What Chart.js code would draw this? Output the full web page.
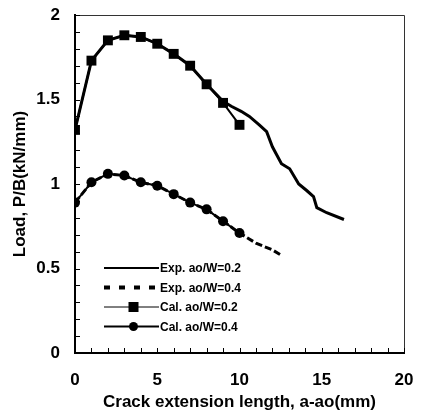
<!DOCTYPE html>
<html>
<head>
<meta charset="utf-8">
<script src="https://cdn.jsdelivr.net/npm/chart.js@4/dist/chart.umd.min.js"></script>
<style>
  body { margin: 0; background: #fff; }
</style>
</head>
<body>
<canvas id="grafico" width="422" height="415"></canvas>
<script>
// valores
const expX02 = [0, 1, 2, 3, 4, 5, 6, 7, 8, 9, 9.5, 10.1, 10.6, 11.2, 11.65, 12.0, 12.55, 13.05, 13.6, 14.1, 14.5, 14.7, 15.3, 16.35];
const expY02 = [1.32, 1.73, 1.85, 1.88, 1.87, 1.83, 1.77, 1.70, 1.59, 1.49, 1.46, 1.43, 1.40, 1.35, 1.31, 1.22, 1.12, 1.09, 1.00, 0.96, 0.925, 0.86, 0.83, 0.79];

const expX04 = [0, 1, 2, 3, 4, 5, 6, 7, 8, 9, 10, 11, 12, 12.6];
const expY04 = [0.89, 1.01, 1.06, 1.05, 1.01, 0.99, 0.94, 0.89, 0.85, 0.78, 0.71, 0.65, 0.61, 0.575];

const calX02 = [0, 1, 2, 3, 4, 5, 6, 7, 8, 9, 10];
const calY02 = [1.32, 1.73, 1.85, 1.88, 1.87, 1.83, 1.77, 1.70, 1.59, 1.48, 1.35];

const calX04 = [0, 1, 2, 3, 4, 5, 6, 7, 8, 9, 10];
const calY04 = [0.89, 1.01, 1.06, 1.05, 1.01, 0.99, 0.94, 0.89, 0.85, 0.78, 0.71];

const labelsSerie = ['Exp. ao/W=0.2', 'Exp. ao/W=0.4', 'Cal. ao/W=0.2', 'Cal. ao/W=0.4'];
const xTickLabels = [0, 5, 10, 15, 20];
const yTickLabels = [0, 0.5, 1, 1.5, 2];

const fonte = "'Liberation Sans', Arial, sans-serif";

function pontos(xs, ys) {
    return xs.map((x, i) => ({ x: x, y: ys[i] }));
}

// moldura, marcas internas e legenda dentro do grafico
const extras = {
    id: 'extras',
    afterDraw(chart) {
        const ctx = chart.ctx;
        const a = chart.chartArea;
        const sx = chart.scales.x;
        const sy = chart.scales.y;
        ctx.save();

        ctx.strokeStyle = '#333';
        ctx.lineWidth = 1;
        ctx.beginPath();
        ctx.moveTo(a.left, a.top + 0.5);
        ctx.lineTo(a.right + 0.5, a.top + 0.5);
        ctx.lineTo(a.right + 0.5, a.bottom);
        ctx.stroke();

        ctx.strokeStyle = '#000';
        ctx.lineWidth = 1;
        sy.ticks.forEach(t => {
            const py = Math.round(sy.getPixelForValue(t.value)) + 0.5;
            ctx.beginPath();
            ctx.moveTo(a.left, py);
            ctx.lineTo(a.left + 5, py);
            ctx.stroke();
        });
        sx.ticks.forEach(t => {
            const px = Math.round(sx.getPixelForValue(t.value)) + 0.5;
            ctx.beginPath();
            ctx.moveTo(px, a.bottom);
            ctx.lineTo(px, a.bottom - 5);
            ctx.stroke();
        });

        // legenda
        const x0 = a.left + 29;
        const x1 = x0 + 55;
        chart.data.datasets.forEach((ds, i) => {
            const y = a.top + 253 + i * 19.5;
            ctx.strokeStyle = '#000';
            ctx.lineWidth = ds.legendaLargura;
            ctx.setLineDash(ds.legendaDash || []);
            ctx.beginPath();
            ctx.moveTo(x0, y);
            ctx.lineTo(x1, y);
            ctx.stroke();
            ctx.setLineDash([]);
            ctx.fillStyle = '#000';
            const cx = (x0 + x1) / 2 + 2;
            if (ds.pointStyle === 'rect') {
                ctx.fillRect(cx - 5, y - 5, 10, 10);
            } else if (ds.pointStyle === 'circle' && ds.pointRadius > 0) {
                ctx.beginPath();
                ctx.arc(cx, y, 4.5, 0, Math.PI * 2);
                ctx.fill();
            }
            ctx.font = 'bold 12px ' + fonte;
            ctx.textBaseline = 'middle';
            ctx.textAlign = 'left';
            ctx.fillText(ds.label, x1 + 1, y + 1);
        });
        ctx.restore();
    }
};

const ctx = document.getElementById('grafico');

new Chart(ctx, {
    type: 'scatter',
    data: {
        datasets: [{
            label: labelsSerie[0],
            data: pontos(expX02, expY02),
            showLine: true,
            borderColor: '#000',
            borderWidth: 3,
            pointRadius: 0,
            pointStyle: 'line',
            legendaLargura: 2
        }, {
            label: labelsSerie[1],
            data: pontos(expX04, expY04),
            showLine: true,
            borderColor: '#000',
            borderWidth: 3,
            borderDash: [7, 3],
            pointRadius: 0,
            pointStyle: 'line',
            legendaLargura: 4,
            legendaDash: [6, 9]
        }, {
            label: labelsSerie[2],
            data: pontos(calX02, calY02),
            showLine: true,
            borderColor: '#000',
            backgroundColor: '#000',
            borderWidth: 2,
            pointStyle: 'rect',
            pointRadius: 7,
            pointBorderWidth: 0,
            legendaLargura: 1
        }, {
            label: labelsSerie[3],
            data: pontos(calX04, calY04),
            showLine: true,
            borderColor: '#000',
            backgroundColor: '#000',
            borderWidth: 2,
            pointStyle: 'circle',
            pointRadius: 5,
            pointBorderWidth: 0,
            legendaLargura: 2
        }]
    },
    options: {
        responsive: false,
        animation: false,
        devicePixelRatio: 1,
        layout: { padding: { left: 6, right: 18, top: 15, bottom: 1 } },
        plugins: {
            legend: { display: false },
            tooltip: { enabled: false }
        },
        scales: {
            x: {
                type: 'linear',
                min: 0,
                max: 20,
                afterFit: s => {
                    s.height = 61;
                    s.paddingLeft = 0;
                    s.paddingRight = 0;
                },
                grid: { display: false, drawTicks: false },
                border: { display: true, color: '#000', width: 2 },
                ticks: {
                    stepSize: 1,
                    autoSkip: false,
                    maxRotation: 0,
                    padding: 17,
                    color: '#000',
                    font: { family: fonte, size: 17, weight: 'bold' },
                    callback: v => xTickLabels.includes(v) ? String(v) : ''
                },
                title: {
                    display: true,
                    text: 'Crack extension length, a-ao(mm)',
                    color: '#000',
                    font: { family: fonte, size: 17, weight: 'bold' },
                    padding: { top: 0, bottom: 1 }
                }
            },
            y: {
                type: 'linear',
                min: 0,
                max: 2,
                afterFit: s => {
                    s.width = 69;
                    s.paddingTop = 0;
                    s.paddingBottom = 0;
                },
                grid: { display: false, drawTicks: false },
                border: { display: true, color: '#000', width: 2 },
                ticks: {
                    stepSize: 0.1,
                    autoSkip: false,
                    padding: 15,
                    color: '#000',
                    font: { family: fonte, size: 17, weight: 'bold' },
                    callback: v => {
                        const r = Math.round(v * 10) / 10;
                        return yTickLabels.includes(r) ? String(r) : '';
                    }
                },
                title: {
                    display: true,
                    text: 'Load, P/B(kN/mm)',
                    color: '#000',
                    font: { family: fonte, size: 17, weight: 'bold' },
                    padding: { top: 4, bottom: 0 }
                }
            }
        }
    },
    plugins: [extras]
});
</script>
</body>
</html>
